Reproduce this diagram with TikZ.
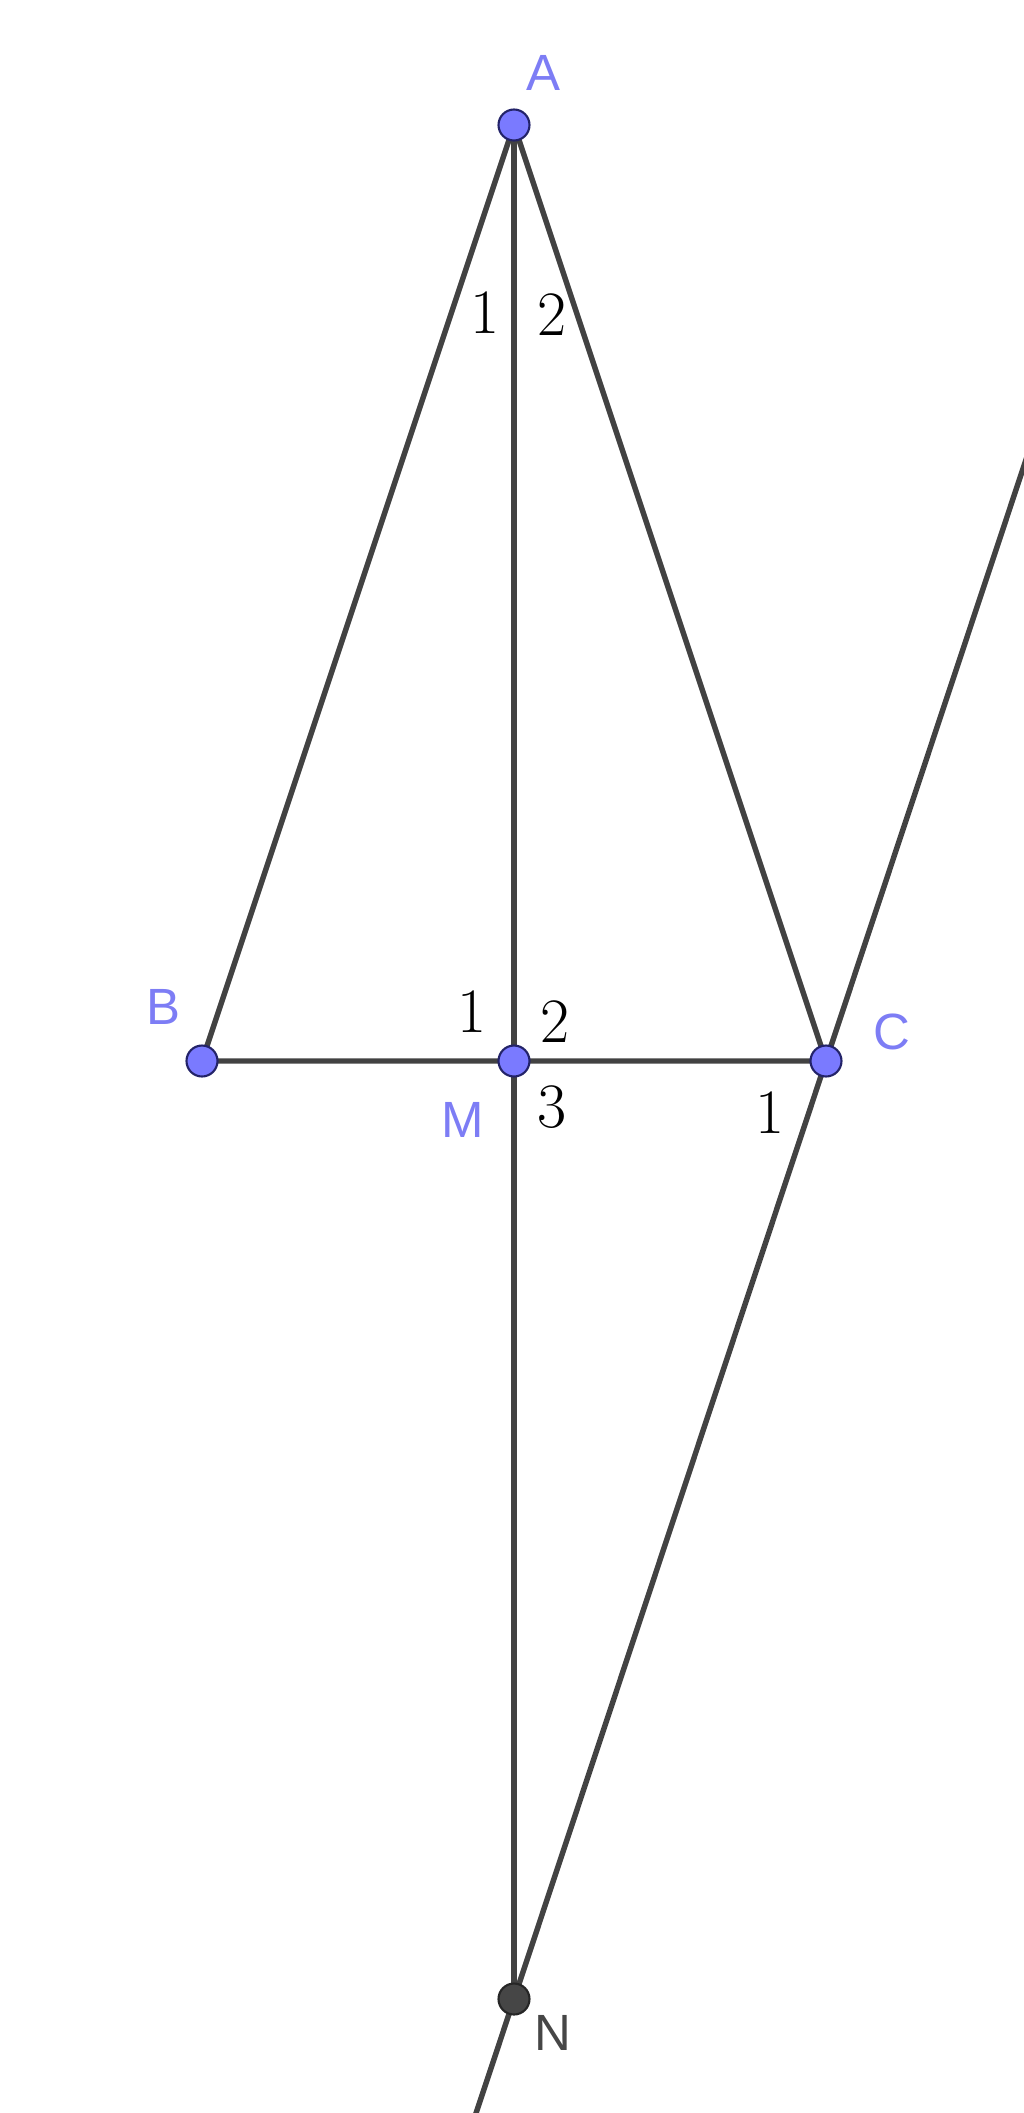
\documentclass[tikz,border=0pt]{standalone}
\usepackage{fontspec}
\newfontfamily\ptfont{Liberation Sans}
\usetikzlibrary{calc}
\definecolor{ptblue}{RGB}{122,122,255}
\definecolor{ptedge}{RGB}{35,35,105}
\definecolor{segcol}{RGB}{66,66,66}
\definecolor{lblblue}{RGB}{125,125,245}
\definecolor{ndark}{RGB}{70,70,70}

\begin{document}
\begin{tikzpicture}[x=0.02cm, y=-0.02cm,
		seg/.style={segcol, line width=3.1pt, line cap=round},
		pt/.style={circle, draw=ptedge, fill=ptblue, line width=1.2pt, minimum size=0.62cm, inner sep=0pt},
		ptlbl/.style={text=lblblue, font=\ptfont\fontsize{29}{32}\selectfont},
		anglbl/.style={font=\fontsize{36}{40}\selectfont},
	]
		\useasboundingbox (0,0) rectangle (1024,2113);
		
		\coordinate (A) at (514,125);
		\coordinate (B) at (202,1061);
		\coordinate (M) at (514,1061);
		\coordinate (C) at (826,1061);
		\coordinate (N) at (514,1999);
		\coordinate (top) at ($(N)!1.65!(C)$);
		\coordinate (bot) at ($(N)!-0.13!(C)$);
		
		\draw[seg] (A) -- (B) -- (C) -- cycle;
		\draw[seg] (A) -- (N);
		\draw[seg, line cap=butt] (bot) -- (top);
		
		\node[pt] (pA) at (A) {};
		\node[pt] (pB) at (B) {};
		\node[pt] (pM) at (M) {};
		\node[pt] (pC) at (C) {};
		\node[pt, fill=ndark, draw=black!85] (pN) at (N) {};
		
		\node[ptlbl] (lA) at (543,73) {A};
		\node[ptlbl] (lB) at (163,1007) {B};
		\node[ptlbl] (lM) at (463,1120) {M};
		\node[ptlbl] (lC) at (892,1032) {C};
		\node[ptlbl, text=ndark] (lN) at (553,2033) {N};
		
		\node[anglbl] (a1) at (485,313) {1};
		\node[anglbl] (a2) at (552,315) {2};
		\node[anglbl] (m1) at (472,1012) {1};
		\node[anglbl] (m2) at (555,1022) {2};
		\node[anglbl] (m3) at (552,1107) {3};
		\node[anglbl] (c1) at (770,1113) {1};
	\end{tikzpicture}
\end{document}
